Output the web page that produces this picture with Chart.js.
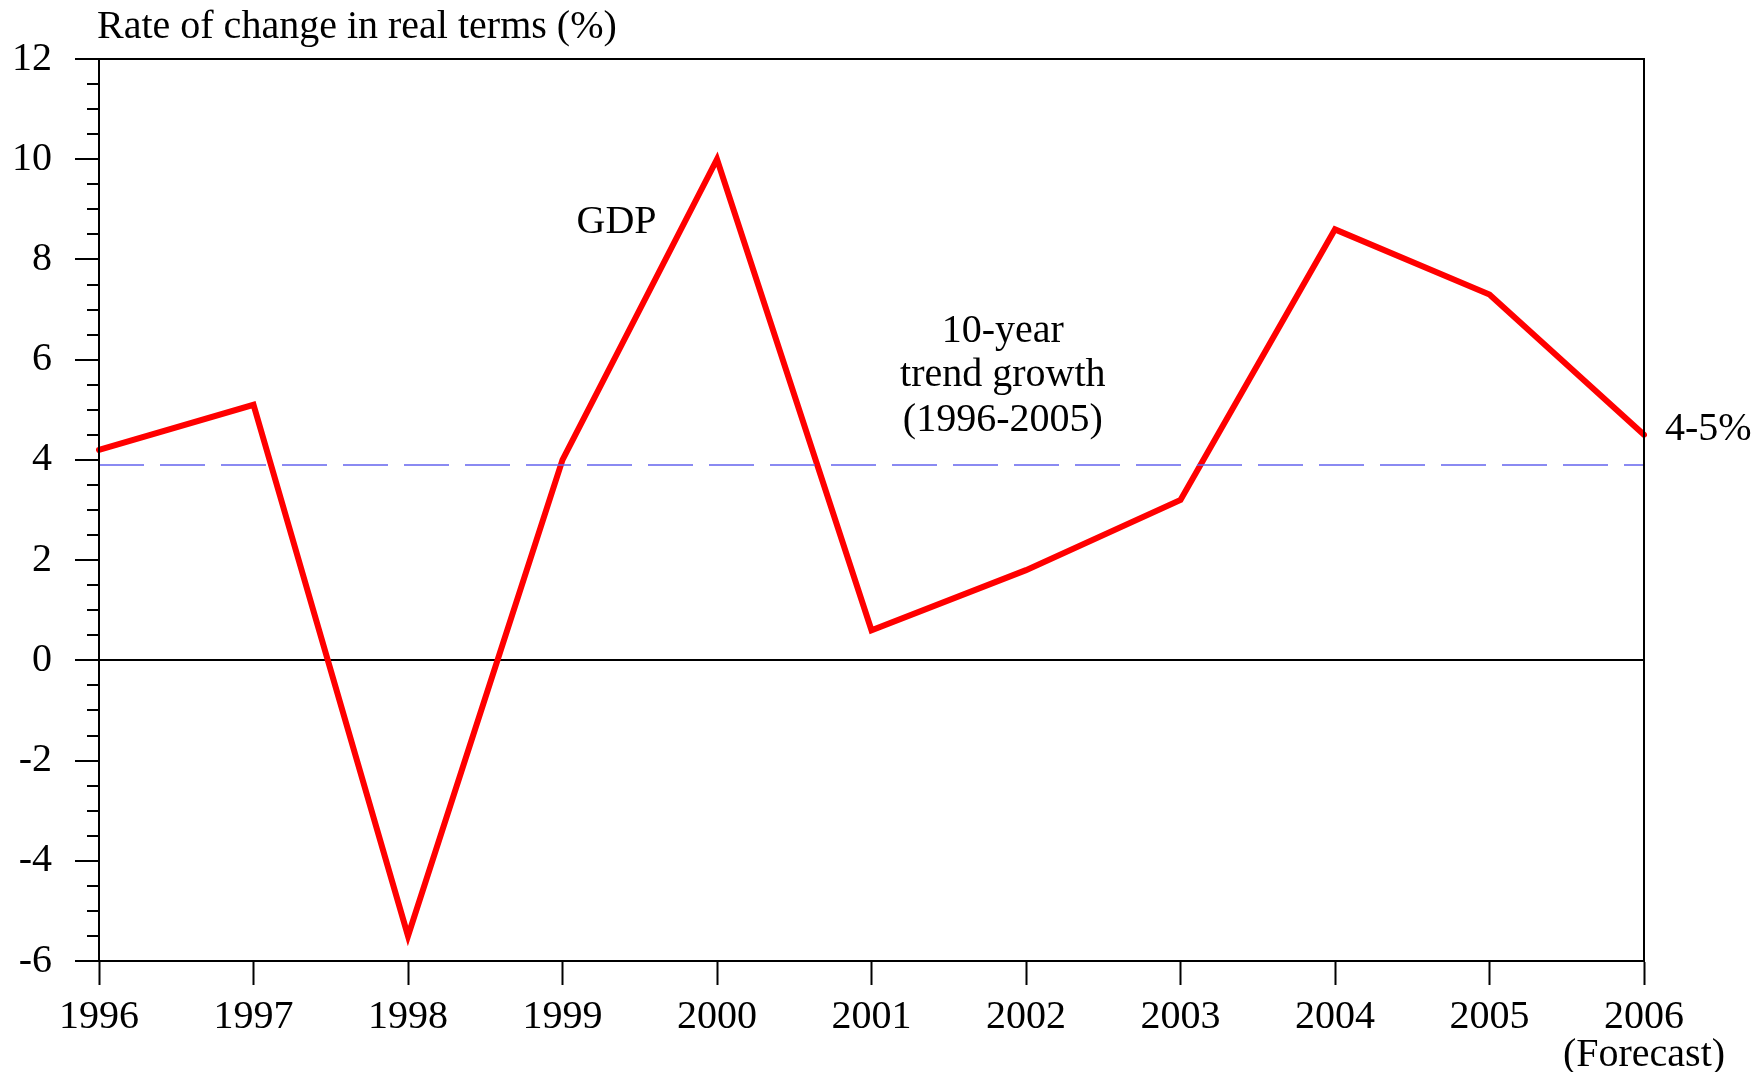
<!DOCTYPE html>
<html>
<head>
<meta charset="utf-8">
<script src="https://cdn.jsdelivr.net/npm/chart.js@4"></script>
<style>
  html, body { margin: 0; padding: 0; background: #fff; }
  #wrap { width: 1764px; height: 1072px; }
</style>
</head>
<body>
<div id="wrap"><canvas id="c" width="1764" height="1072"></canvas></div>
<script>
// ---- data ----
const years = ['1996','1997','1998','1999','2000','2001','2002','2003','2004','2005',['2006','(Forecast)']];
const gdp   = [4.2, 5.1, -5.5, 4.0, 10.0, 0.6, 1.8, 3.2, 8.6, 7.3, 4.5];
const trend = [3.9, 3.9, 3.9, 3.9, 3.9, 3.9, 3.9, 3.9, 3.9, 3.9, 3.9];
const yTicks = [-6, -4, -2, 0, 2, 4, 6, 8, 10, 12];
const titleText = 'Rate of change in real terms (%)';
const gdpLabel = 'GDP';
const trendLabel = ['10-year', 'trend growth', '(1996-2005)'];
const forecastLabel = '4-5%';

const FONT = "'Liberation Serif', 'Times New Roman', serif";
const FS = 40;

const decor = {
  id: 'decor',
  afterDraw(chart) {
    const ctx = chart.ctx;
    const ca = chart.chartArea;
    const xs = chart.scales.x, ys = chart.scales.y;
    ctx.save();
    // minor y ticks
    ctx.strokeStyle = '#000';
    ctx.lineWidth = 2;
    for (let v = ys.min; v <= ys.max + 1e-9; v += 0.5) {
      if (Math.abs(v / 2 - Math.round(v / 2)) < 1e-9) continue;
      const py = Math.round(ys.getPixelForValue(v));
      ctx.beginPath();
      ctx.moveTo(ca.left - 12, py);
      ctx.lineTo(ca.left, py);
      ctx.stroke();
    }
    // plot frame
    ctx.strokeRect(ca.left, ca.top, ca.right - ca.left, ca.bottom - ca.top);
    // texts
    ctx.fillStyle = '#000';
    ctx.font = FS + 'px ' + FONT;
    ctx.textAlign = 'left';
    ctx.textBaseline = 'alphabetic';
    ctx.fillText(titleText, ca.left - 2, 38);

    ctx.textAlign = 'center';
    ctx.textBaseline = 'middle';
    ctx.fillText(gdpLabel, xs.getPixelForValue(3.35), ys.getPixelForValue(8.74));
    const tv = [6.57, 5.68, 4.78];
    trendLabel.forEach((t, i) => {
      ctx.fillText(t, xs.getPixelForValue(5.85), ys.getPixelForValue(tv[i]));
    });
    ctx.textAlign = 'left';
    ctx.fillText(forecastLabel, ca.right + 21, ys.getPixelForValue(4.6));
    ctx.restore();
  }
};

new Chart(document.getElementById('c'), {
  type: 'line',
  data: {
    labels: years,
    datasets: [
      {
        data: trend,
        borderColor: '#6464ee',
        borderWidth: 1.5,
        borderDash: [45, 16],
        pointRadius: 0,
        fill: false,
        tension: 0
      },
      {
        data: gdp,
        borderColor: '#ff0000',
        borderWidth: 6,
        borderJoinStyle: 'miter',
        borderCapStyle: 'round',
        pointRadius: 0,
        fill: false,
        tension: 0
      }
    ]
  },
  options: {
    responsive: false,
    animation: false,
    devicePixelRatio: 1,
    layout: { padding: { left: 0, top: 59, right: 120, bottom: 0 } },
    plugins: { legend: { display: false }, title: { display: false }, tooltip: { enabled: false } },
    scales: {
      x: {
        type: 'category',
        offset: false,
        grid: {
          display: true,
          drawOnChartArea: false,
          drawTicks: true,
          tickLength: 24,
          tickColor: '#000',
          tickWidth: 2
        },
        border: { display: true, color: '#000', width: 2 },
        ticks: {
          autoSkip: false,
          maxRotation: 0,
          minRotation: 0,
          padding: 13,
          color: '#000',
          font: { family: FONT, size: FS, lineHeight: 0.95 }
        },
        afterFit(s) { s.height = 111; }
      },
      y: {
        type: 'linear',
        min: -6,
        max: 12,
        afterBuildTicks(s) { s.ticks = yTicks.map(v => ({ value: v })); },
        grid: {
          display: true,
          drawOnChartArea: true,
          drawTicks: true,
          tickLength: 24,
          tickColor: '#000',
          tickWidth: 2,
          lineWidth: 2,
          color: c => (c.tick && c.tick.value === 0) ? '#000' : 'rgba(0,0,0,0)'
        },
        border: { display: true, color: '#000', width: 2 },
        ticks: {
          padding: 23,
          color: '#000',
          font: { family: FONT, size: FS },
          callback: v => String(v)
        },
        afterFit(s) { s.width = 99; }
      }
    }
  },
  plugins: [decor]
});
</script>
</body>
</html>
